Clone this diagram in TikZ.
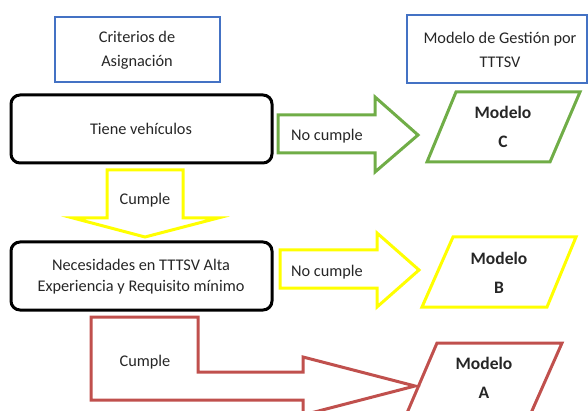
\documentclass[tikz,border=0pt]{standalone}
\usepackage{fontspec}
\setmainfont{Carlito}
\definecolor{cblue}{HTML}{4472C4}
\definecolor{cgreen}{HTML}{70AD47}
\definecolor{cyellow}{HTML}{FFFF00}
\definecolor{cred}{HTML}{C0504D}
\definecolor{ctext}{HTML}{262626}
\begin{document}
\begin{tikzpicture}[x=1pt,y=-1pt,
  txt/.style={text=ctext,font=\fontsize{16.3}{21}\selectfont,align=center,inner sep=0pt},
  btxt/.style={text=ctext,font=\fontsize{17.5}{29}\selectfont\bfseries,align=center,inner sep=0pt},
  bluebox/.style={draw=cblue,line width=2pt},
  blackbox/.style={draw=black,line width=3pt,rounded corners=9pt},
  blockarrow/.style={line width=3pt,line join=miter}]
\useasboundingbox (0,0) rectangle (588,411);
\clip (0,0) rectangle (588,411);
% header boxes
\draw[bluebox] (55,17) rectangle (220,82);
\node[txt,font=\fontsize{16.3}{24}\selectfont] (crit) at (137,50) {Criterios de\\Asignación};
\draw[bluebox] (407,15) rectangle (587,83);
\node[txt,font=\fontsize{16.3}{24}\selectfont] (mod) at (500,50) {Modelo de Gestión por\\TTTSV};
% criteria boxes
\draw[blackbox] (11,95) rectangle (272,163);
\node[txt] (tiene) at (141,129) {Tiene vehículos};
\draw[blackbox] (11,242) rectangle (272,310);
\node[txt] (nec) at (141,277) {Necesidades en TTTSV Alta\\Experiencia y Requisito mínimo};
% green arrow
\draw[blockarrow,draw=cgreen] (278,115)--(375,115)--(375,97)--(418,135)--(375,172)--(375,153)--(278,153)--cycle;
\node[txt] (nc1) at (327,136) {No cumple};
% yellow down arrow
\draw[blockarrow,draw=cyellow] (107,170)--(183,170)--(183,218)--(218,218)--(145,237)--(73,218)--(107,218)--cycle;
\node[txt] (c1) at (145,200) {Cumple};
% yellow right arrow
\draw[blockarrow,draw=cyellow] (280,250)--(377,250)--(377,233)--(419,270)--(377,307)--(377,288)--(280,288)--cycle;
\node[txt] (nc2) at (327,272) {No cumple};
% red bent arrow
\draw[blockarrow,draw=cred] (91,317)--(198,317)--(198,372)--(303,372)--(303,357)--(415,386)--(303,415)--(303,400)--(91,400)--cycle;
\node[txt] (c2) at (145,362) {Cumple};
% parallelograms
\draw[line width=3pt,draw=cgreen] (456,92)--(580,92)--(550,162)--(427,162)--cycle;
\node[btxt] (mc) at (503,127) {Modelo\\C};
\draw[line width=3pt,draw=cyellow] (453,237)--(576,237)--(547,307)--(422,307)--cycle;
\node[btxt] (mb) at (499,273) {Modelo\\B};
\draw[line width=3pt,draw=cred] (437,343)--(562,343)--(531,413)--(407,413)--cycle;
\node[btxt] (ma) at (484,378) {Modelo\\A};
\end{tikzpicture}
\end{document}
